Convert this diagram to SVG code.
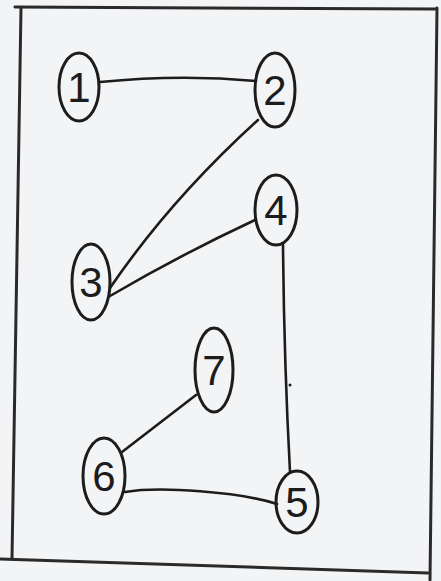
<svg xmlns="http://www.w3.org/2000/svg" width="441" height="581" viewBox="0 0 441 581">
<style>
.bd{fill:none;stroke:#2a2a2a;stroke-width:3;stroke-linecap:round}
.nd{fill:none;stroke:#1c1c1c;stroke-width:3}
.ed{fill:none;stroke:#1c1c1c;stroke-width:2.6;stroke-linecap:round}
.lb{font-family:"Liberation Sans",Arial,sans-serif;font-size:42px;fill:#1c1c1c;text-anchor:middle}
</style>
<rect x="0" y="0" width="441" height="581" fill="#f3f4f6"/>
<g id="border">
<path class="bd" d="M15,7 L436,9"/>
<path class="bd" d="M21,8 L12,559"/>
<path class="bd" d="M437,8 L430,580"/>
<path class="bd" d="M0,559 L428,573"/>
</g>
<g id="connectors">
<path class="ed" d="M100,82 Q180,74 256,81"/>
<path class="ed" d="M258,120 Q170,200 110,288"/>
<path class="ed" d="M110,296 Q180,255 255,220"/>
<path class="ed" d="M283,245 Q284,360 290,472"/>
<path class="ed" d="M196,395 L122,452"/>
<path class="ed" d="M125,492 C160,486 240,492 277,504"/>
<circle cx="290" cy="385" r="1.5" fill="#1c1c1c"/>
</g>
<g id="node1"><ellipse class="nd" cx="79" cy="87" rx="20" ry="34"/><text class="lb" x="79" y="102">1</text></g>
<g id="node2"><ellipse class="nd" cx="275" cy="90" rx="20" ry="37"/><text class="lb" x="275" y="105">2</text></g>
<g id="node3"><ellipse class="nd" cx="91" cy="282" rx="19" ry="38"/><text class="lb" x="91" y="297">3</text></g>
<g id="node4"><ellipse class="nd" cx="276" cy="210" rx="21" ry="35"/><text class="lb" x="276" y="225">4</text></g>
<g id="node7"><ellipse class="nd" cx="214" cy="370" rx="19" ry="42"/><text class="lb" x="214" y="385">7</text></g>
<g id="node6"><ellipse class="nd" cx="104" cy="476" rx="21" ry="38"/><text class="lb" x="104" y="491">6</text></g>
<g id="node5"><ellipse class="nd" cx="297" cy="502" rx="21" ry="31"/><text class="lb" x="297" y="517">5</text></g>
</svg>
